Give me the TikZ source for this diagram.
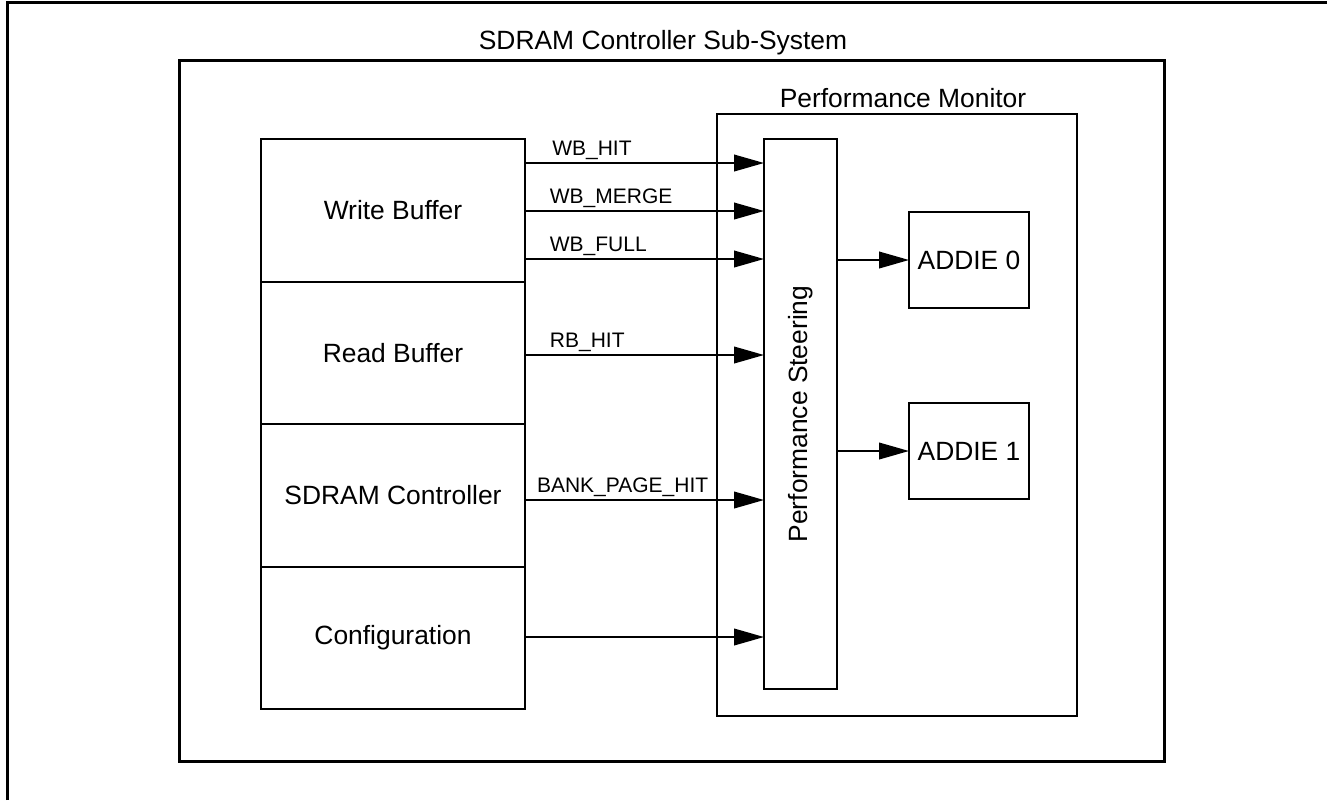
\documentclass[tikz,border=0pt]{standalone}
\usepackage{fontspec}
\setmainfont{Liberation Sans}
\usetikzlibrary{positioning, arrows.meta}

\begin{document}
\begin{tikzpicture}[
		x=0.5pt, y=-0.5pt,
		>={Triangle[length=15pt, width=8.3pt]},
		node distance=0pt,
		every node/.style={font=\fontsize{13.2}{15}\selectfont},
		frame/.style={draw, line width=1.5pt, outer sep=0pt, inner sep=0pt},
		block/.style={draw, line width=1pt, outer sep=0pt, inner sep=0pt, minimum width=132pt, minimum height=71.25pt},
		addie/.style={draw, line width=1pt, outer sep=0pt, inner sep=0pt, minimum width=60pt, minimum height=48pt},
		signal/.style={font=\fontsize{10.5}{12}\selectfont, inner sep=0pt, anchor=base west, yshift=4pt},
		sig/.style={->, line width=1pt}]
	
	\useasboundingbox (0,0) rectangle (1327,800);
	\draw[line width=1.5pt] (7,800) -- (7,2) -- (1327,2);
	
	% containers
	\node[frame, minimum width=492.5pt, minimum height=350.5pt] (subsys) at (671.5,410.5) {};
	\node[anchor=base] (subsys_title) at (663,49) {SDRAM Controller Sub-System};
	\node[draw, line width=1.1pt, outer sep=0pt, minimum width=180pt, minimum height=301pt] (pmon) at (897,415) {};
	\node[anchor=base] (pmon_title) at (903,107) {Performance Monitor};
	
	% sources
	\node[block, anchor=north west] (wbuf) at (261,139) {Write Buffer};
	\node[block, below=of wbuf] (rbuf) {Read Buffer};
	\node[block, below=of rbuf] (sdram) {SDRAM Controller};
	\node[block, below=of sdram] (config) {Configuration};
	
	% steering and counters
	\node[draw, line width=1pt, outer sep=0pt, inner sep=0pt, minimum width=36.5pt, minimum height=275pt] (steer) at (800.5,414) {\rotatebox{90}{Performance Steering}};
	\node[addie] (addie0) at (969,260) {ADDIE 0};
	\node[addie] (addie1) at (969,451) {ADDIE 1};
	
	\draw[sig] (wbuf.east |- 0,163) -- node[signal, pos=.11] {WB\_HIT} (steer.west |- 0,163);
	\draw[sig] (wbuf.east |- 0,211) -- node[signal, pos=.1] {WB\_MERGE} (steer.west |- 0,211);
	\draw[sig] (wbuf.east |- 0,259) -- node[signal, pos=.1] {WB\_FULL} (steer.west |- 0,259);
	\draw[sig] (rbuf.east |- 0,355) -- node[signal, pos=.1] {RB\_HIT} (steer.west |- 0,355);
	\draw[sig] (sdram.east |- 0,500) -- node[signal, pos=.046] {BANK\_PAGE\_HIT} (steer.west |- 0,500);
	\draw[sig] (config.east |- 0,637) -- (steer.west |- 0,637);
	
	\draw[sig] (steer.east |- addie0) -- (addie0.west);
	\draw[sig] (steer.east |- addie1) -- (addie1.west);
	
\end{tikzpicture}
\end{document}
